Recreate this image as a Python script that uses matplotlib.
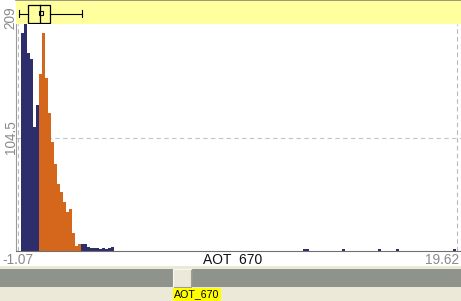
import matplotlib
matplotlib.use("Agg")
import matplotlib.pyplot as plt
from matplotlib.patches import Rectangle
from matplotlib.transforms import blended_transform_factory

plt.rcParams['font.family'] = ['Liberation Sans', 'DejaVu Sans']

# axis range and labels
x_min, x_max = -1.07, 19.62
y_max = 209
y_mid = 104.5
x_title = "AOT  670"
slider_label = "AOT_670"

# histogram: bin index (from x_min) and counts
bin_w = 0.1414
navy_bins = [1, 2, 3, 4, 5, 6,
             21, 22, 23, 24, 25, 26, 27, 28, 29, 30, 31,
             95, 96, 108, 120, 126, 145]
navy_counts = [201, 209, 182, 177, 114, 134,
               6, 6, 4, 3, 3, 3, 2, 3, 2, 3, 4,
               2, 2, 2, 2, 2, 2]
orange_bins = [7, 8, 9, 10, 11, 12, 13, 14, 15, 16, 17, 18, 19, 20]
orange_counts = [163, 201, 159, 127, 100, 80, 62, 54, 45, 36, 39, 17, 5, 6]

# box plot stats in the top band
box_stats = [-1.01, -0.585, -0.019, 0.452, 1.946]   # whislo, q1, med, q3, whishi
box_mean = 0.037

W, H = 461, 301
px = 439 / (x_max - x_min)
lo = x_min - 2 / px
hi = x_max + 4 / px

fig = plt.figure(figsize=(W / 100, H / 100), dpi=100)
fig.patch.set_facecolor('white')

# slider strip at the bottom
bg = fig.add_axes([0, 0, 1, 1])
bg.set_xlim(0, W)
bg.set_ylim(H, 0)
bg.axis('off')
bg.add_patch(Rectangle((0, 266), W, 35, color='#ECE9D8', lw=0))
bg.add_patch(Rectangle((0, 269), W, 18, color='#8E948C', lw=0))
bg.add_patch(Rectangle((173, 269), 18, 18, facecolor='#ECE9D8', edgecolor='#F8F8F4', lw=0.8))
bg.plot([173.5, 190.5, 190.5], [287, 287, 269.5], color='#A09E92', lw=0.8)
bg.text(197, 294.5, slider_label, ha='center', va='center', fontsize=7.7,
        color='black', bbox=dict(boxstyle='square,pad=0.12', fc='#FFFF00', ec='none'))

# histogram
ax = fig.add_axes([16 / W, (H - 251) / H, 445 / W, 227 / H])
ax.set_facecolor('white')
ax.bar([x_min + k * bin_w for k in navy_bins], navy_counts, width=bin_w * 1.06,
       align='edge', color='#2E2E6C', lw=0, antialiased=False)
ax.bar([x_min + k * bin_w for k in orange_bins], orange_counts, width=bin_w * 1.06,
       align='edge', color='#D4671C', lw=0, antialiased=False)
ax.set_xlim(lo, hi)
ax.set_ylim(0, y_max)
ax.axhline(y_mid, color='#C4C4C4', lw=0.8, ls=(0, (4, 3)), zorder=0)
ax.axvline(x_min, color='#B8B8B8', lw=0.8, ls=(0, (4, 3)), zorder=0)
ax.axvline(x_max, color='#B8B8B8', lw=0.8, ls=(0, (4, 3)), zorder=0)
for s in ['top', 'right']:
    ax.spines[s].set_visible(False)
ax.spines['left'].set_color('#9A9A9A')
ax.spines['bottom'].set_color('#707070')
ax.spines['left'].set_linewidth(0.8)
ax.spines['bottom'].set_linewidth(0.8)
ax.set_xticks([])
ax.set_yticks([])

ytr = blended_transform_factory(fig.transFigure, ax.transData)
ax.text(10.5 / W, y_max + 6, "209", transform=ytr, rotation=90, ha='center',
        va='center', fontsize=9.8, color='#8A8A8A', clip_on=False)
ax.text(10.5 / W, y_mid, "104.5", transform=ytr, rotation=90, ha='center',
        va='center', fontsize=9.8, color='#8A8A8A')

xtr = blended_transform_factory(ax.transData, fig.transFigure)
ax.text(x_min - 16 / px, (H - 260) / H, "-1.07", transform=xtr, ha='left',
        va='center', fontsize=9.8, color='#8A8A8A')
ax.text(x_max + 2 / px, (H - 260) / H, "19.62", transform=xtr, ha='right',
        va='center', fontsize=9.8, color='#8A8A8A')
ax.text((x_min + x_max) / 2 - 5 / px, (H - 259.5) / H, x_title, transform=xtr,
        ha='center', va='center', fontsize=10, color='#111111')

# yellow band with box plot
bx = fig.add_axes([16 / W, (H - 24) / H, 445 / W, 24 / H])
bx.set_facecolor('#FFFF9E')
bx.set_xlim(lo, hi)
bx.set_ylim(24, 0)
for s in ['left', 'right', 'bottom']:
    bx.spines[s].set_visible(False)
bx.spines['top'].set_color('#8A8678')
bx.spines['top'].set_linewidth(1.2)
bx.set_xticks([])
bx.set_yticks([])
wlo, q1, med, q3, whi = box_stats
bx.plot([wlo, q1], [13.5, 13.5], color='black', lw=0.8)
bx.plot([q3, whi], [13.5, 13.5], color='black', lw=0.8)
bx.plot([wlo, wlo], [10, 17], color='black', lw=0.8)
bx.plot([whi, whi], [10, 17], color='black', lw=0.8)
bx.add_patch(Rectangle((q1, 4.5), q3 - q1, 18, fill=False, ec='black', lw=0.9))
bx.plot([med, med], [4.5, 22.5], color='black', lw=0.9)
bx.plot([box_mean], [13], marker='s', ms=2.6, mfc='none', mec='black', mew=0.8)

fig.savefig("out.png", dpi=100, facecolor=fig.get_facecolor())
